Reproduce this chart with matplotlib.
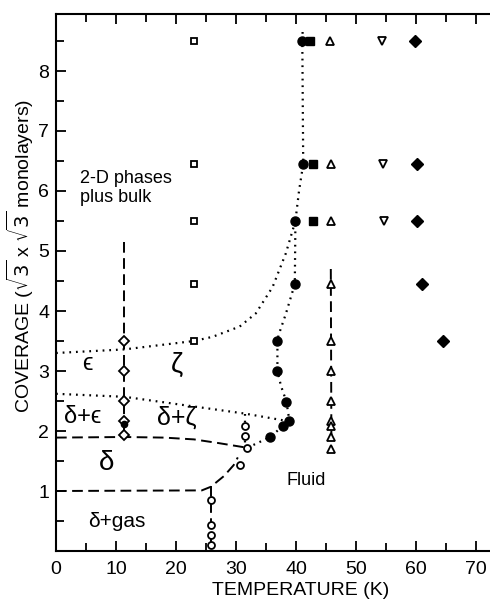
import numpy as np
import matplotlib
matplotlib.use("Agg")
import matplotlib.pyplot as plt
from matplotlib.ticker import MultipleLocator, FixedLocator

plt.rcParams['font.family'] = ['Liberation Sans', 'DejaVu Sans']
plt.rcParams['mathtext.fontset'] = 'dejavusans'

# measured points (temperature in K, coverage in monolayers)
sq_open_T = [23.0, 23.0, 23.0, 23.0, 23.0]
sq_open_C = [3.5, 4.45, 5.5, 6.45, 8.5]

circ_fill_T = [41.05, 41.2, 39.9, 39.8, 36.9, 36.9, 38.4, 38.9, 37.9, 35.7]
circ_fill_C = [8.5, 6.45, 5.5, 4.45, 3.5, 3.0, 2.49, 2.17, 2.09, 1.9]

sq_fill_T = [42.4, 42.9, 42.9]
sq_fill_C = [8.5, 6.45, 5.5]

tri_up_T = [45.7, 45.8, 45.8, 45.8, 45.9, 45.9, 45.9, 45.9, 45.9, 45.9, 45.9]
tri_up_C = [8.5, 6.45, 5.5, 4.45, 3.5, 3.0, 2.5, 2.17, 2.08, 1.9, 1.7]

tri_dn_T = [54.3, 54.5, 54.6]
tri_dn_C = [8.5, 6.45, 5.5]

dia_fill_T = [59.8, 60.1, 60.1, 61.0, 64.5]
dia_fill_C = [8.5, 6.45, 5.5, 4.45, 3.5]

dia_open_T = [11.4, 11.4, 11.4, 11.4, 11.4]
dia_open_C = [3.5, 3.0, 2.5, 2.17, 1.93]
dia_half_T = [11.4]
dia_half_C = [2.12]

circ_open_T = [31.5, 31.5, 31.9, 30.6, 25.9, 25.9, 25.9, 25.9]
circ_open_C = [2.09, 1.92, 1.72, 1.43, 0.85, 0.43, 0.27, 0.095]

# phase boundaries
dash_delta_T = [0, 11.4, 18, 23, 27, 31.9]
dash_delta_C = [1.89, 1.9, 1.89, 1.86, 1.8, 1.72]
dash_gas_T = [0, 24.3, 25.8, 28.0, 29.6, 30.3]
dash_gas_C = [1.0, 1.01, 1.07, 1.25, 1.43, 1.56]
dash_v26_T = [25.9, 25.9]
dash_v26_C = [1.08, 0.1]
dash_v11_T = [11.4, 11.4]
dash_v11_C = [5.15, 1.93]
dash_v46_T = [45.8, 45.9]
dash_v46_C = [4.7, 1.7]

dot_eps_T = [0, 11.4, 23, 26.1, 30.6, 33.3, 36.1, 38.3, 39.9]
dot_eps_C = [3.3, 3.36, 3.5, 3.57, 3.74, 3.96, 4.4, 4.96, 5.5]
dot_low_T = [0, 11.4, 20, 31.5, 38.9]
dot_low_C = [2.62, 2.57, 2.45, 2.29, 2.16]
dot_main_T = [41.1, 41.05, 41.2, 40.5, 39.9, 39.8, 38.3, 37.1, 36.9, 36.9, 37.5, 38.4, 38.9]
dot_main_C = [8.65, 8.5, 6.45, 6.0, 5.5, 4.45, 3.95, 3.6, 3.5, 3.0, 2.75, 2.49, 2.17]
dot_melt_T = [31.9, 35.7, 37.9, 38.9]
dot_melt_C = [1.72, 1.9, 2.09, 2.17]
dot_v31_T = [31.5, 31.5]
dot_v31_C = [2.29, 1.72]

fig = plt.figure(figsize=(4.9, 6.0), dpi=100)
ax = fig.add_axes([56 / 490, 49 / 600, 434 / 490, 537 / 600])

dash = dict(color='black', lw=1.4, ls=(0, (5.5, 2.8)), zorder=1)
dot = dict(color='black', lw=1.6, ls=(0, (0.8, 2.2)), zorder=1)

for t, c in [(dash_delta_T, dash_delta_C), (dash_gas_T, dash_gas_C),
             (dash_v26_T, dash_v26_C), (dash_v11_T, dash_v11_C),
             (dash_v46_T, dash_v46_C)]:
    ax.plot(t, c, **dash)
for t, c in [(dot_eps_T, dot_eps_C), (dot_low_T, dot_low_C),
             (dot_main_T, dot_main_C), (dot_melt_T, dot_melt_C),
             (dot_v31_T, dot_v31_C)]:
    ax.plot(t, c, **dot)

mk = dict(ls='none', color='black', zorder=3)
ax.plot(sq_open_T, sq_open_C, marker='s', ms=5, mfc='white', mew=1.3, **mk)
ax.plot(circ_fill_T, circ_fill_C, marker='o', ms=6.5, **mk)
ax.plot(sq_fill_T, sq_fill_C, marker='s', ms=5.5, **mk)
ax.plot(tri_up_T, tri_up_C, marker='^', ms=5.5, mfc='white', mew=1.3, **mk)
ax.plot(tri_dn_T, tri_dn_C, marker='v', ms=5.5, mfc='white', mew=1.3, **mk)
ax.plot(dia_fill_T, dia_fill_C, marker='D', ms=6, **mk)
ax.plot(dia_open_T, dia_open_C, marker='D', ms=5.5, mfc='white', mew=1.3, **mk)
ax.plot(dia_half_T, dia_half_C, marker='o', ms=4.5, **mk)
ax.plot(circ_open_T, circ_open_C, marker='o', ms=5, mfc='white', mew=1.3, **mk)

ax.set_xlim(0, 72.33)
ax.set_ylim(0, 8.95)

ax.xaxis.set_major_locator(MultipleLocator(10))
ax.xaxis.set_minor_locator(MultipleLocator(5))
ax.yaxis.set_major_locator(FixedLocator([1, 2, 3, 4, 5, 6, 7, 8]))
ax.yaxis.set_minor_locator(MultipleLocator(0.5))
ax.tick_params(which='both', direction='in', top=True, right=False,
               width=1.3, labelsize=14)
ax.tick_params(which='major', length=7)
ax.tick_params(which='minor', length=6)
ax.tick_params(axis='x', pad=7)
ax.tick_params(axis='y', pad=5)
ax.spines['right'].set_visible(False)
for s in ['left', 'bottom', 'top']:
    ax.spines[s].set_linewidth(1.5)

ax.set_xlabel('TEMPERATURE (K)', fontsize=14)
ax.xaxis.set_label_coords(0.563, -0.058)
ax.set_ylabel(r'COVERAGE ($\sqrt{3}$ x $\sqrt{3}$ monolayers)', fontsize=14)
ax.yaxis.set_label_coords(-0.047, 0.55)

ax.text(4.0, 6.05, '2-D phases\nplus bulk', fontsize=13, ha='left',
        va='center', linespacing=1.15)
ax.text(5.3, 3.12, '\u03f5', fontsize=17, ha='center', va='center')
ax.text(20.1, 3.1, '\u03b6', fontsize=20, ha='center', va='center')
ax.text(4.5, 2.24, '\u03b4+\u03f5', fontsize=17, ha='center', va='center')
ax.text(20.1, 2.22, '\u03b4+\u03b6', fontsize=18, ha='center', va='center')
ax.text(8.4, 1.46, '\u03b4', fontsize=20, ha='center', va='center')
ax.text(41.7, 1.18, 'Fluid', fontsize=13, ha='center', va='center')
ax.text(10.1, 0.49, '\u03b4+gas', fontsize=15, ha='center', va='center')

fig.savefig('out.png', dpi=100)
